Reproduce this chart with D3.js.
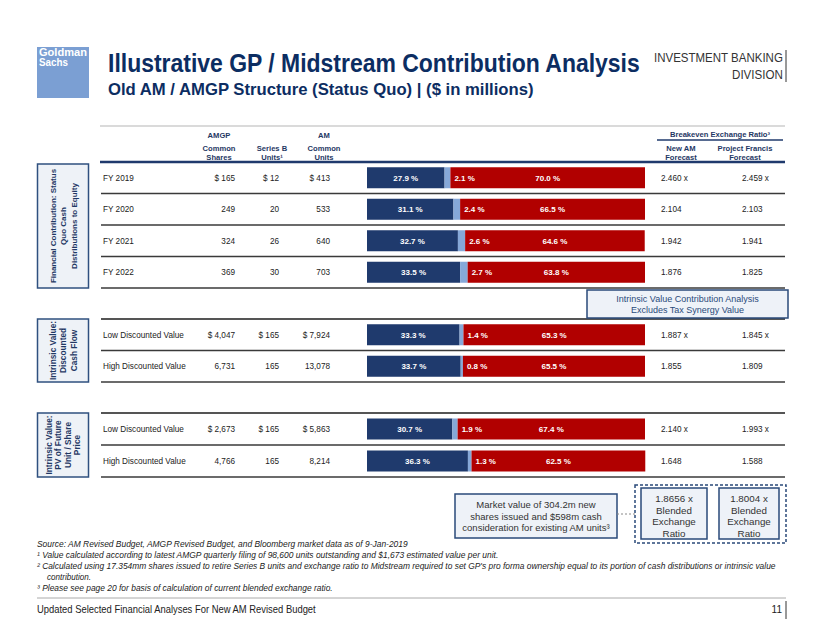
<!DOCTYPE html>
<html><head><meta charset="utf-8">
<script src="https://cdn.jsdelivr.net/npm/d3@7"></script>
<style>body{margin:0;background:#fff}svg{display:block}</style>
</head><body><svg id="c" width="822" height="635"></svg>
<script>
// ---------- DATA ----------
const rowLabels = ["FY 2019","FY 2020","FY 2021","FY 2022","Low Discounted Value","High Discounted Value","Low Discounted Value","High Discounted Value"];
const amgpValues = [165,249,324,369,4047,6731,2673,4766];
const seriesBValues = [12,20,26,30,165,165,165,165];
const amValues = [413,533,640,703,7924,13078,5863,8214];
const amgpPct = [27.9,31.1,32.7,33.5,33.3,33.7,30.7,36.3];
const seriesBPct = [2.1,2.4,2.6,2.7,1.4,0.8,1.9,1.3];
const amPct = [70.0,66.5,64.6,63.8,65.3,65.5,67.4,62.5];
const newAMRatio = ["2.460","2.104","1.942","1.876","1.887","1.855","2.140","1.648"];
const francisRatio = ["2.459","2.103","1.941","1.825","1.845","1.809","1.993","1.588"];
const sectionTitles = [["Financial Contribution: Status","Quo Cash","Distributions to Equity"],["Intrinsic Value:","Discounted","Cash Flow"],["Intrinsic Value:","PV of Future","Unit / Share","Price"]];
const sectionRows = [[0,1,2,3],[4,5],[6,7]];
const blendedRatios = ["1.8656 x","1.8004 x"];

// ---------- STYLE ----------
const NAVY="#1f3a6d", LBLUE="#86a8d8", RED="#b10000", TXT="#222", HEAD="#1f3864";
const SANS="'Liberation Sans', Arial, sans-serif";
const NARROW="'Liberation Sans Narrow','Arial Narrow','Liberation Sans',Arial,sans-serif";

const svg = d3.select("#c");

// text squeezed horizontally to a given width via a scale transform
function fitText(x0, y0, txt, width, opts){
  const t = svg.append("text").attr("x",0).attr("y",0)
    .attr("font-family",opts.family||NARROW).attr("font-size",opts.size)
    .attr("font-weight",opts.weight||"normal").attr("font-style",opts.style||"normal")
    .attr("fill",opts.fill||"#222").text(txt);
  const w = t.node().getComputedTextLength() || width;
  const k = width / w;
  const left = opts.anchor==="end" ? x0 - width : x0;
  t.attr("transform",`translate(${left},${y0}) scale(${k},1)`);
  return t;
}

// ---------- HEADER ----------
svg.append("rect").attr("x",37).attr("y",47).attr("width",52).attr("height",51).attr("fill","#7b9fd3");
fitText(39,56,"Goldman",48,{size:10,weight:"bold",fill:"#fff"});
fitText(39,66,"Sachs",29,{size:10,weight:"bold",fill:"#fff"});

fitText(108,72,"Illustrative GP / Midstream Contribution Analysis",532,{size:26,weight:"bold",fill:"#0c2d62"});
fitText(108,95,"Old AM / AMGP Structure (Status Quo) | ($ in millions)",426,{size:16.5,weight:"bold",fill:"#0c2d62"});
fitText(783,62,"INVESTMENT BANKING",129,{size:13,fill:"#333",anchor:"end"});
fitText(783,79,"DIVISION",51,{size:13,fill:"#333",anchor:"end"});
svg.append("line").attr("x1",786).attr("x2",786).attr("y1",50).attr("y2",82).attr("stroke","#333").attr("stroke-width",1);

// ---------- COLUMN HEADERS ----------
svg.append("line").attr("x1",100).attr("x2",785).attr("y1",126).attr("y2",126).attr("stroke","#b5b5b5").attr("stroke-width",1);
function headText(x, y, lines, anchor){
  const t = svg.append("text").attr("x",x).attr("y",y).attr("text-anchor",anchor||"middle")
    .attr("font-family",SANS).attr("font-weight","bold").attr("font-size",7.6).attr("fill",HEAD);
  lines.forEach((l,i)=>t.append("tspan").attr("x",x).attr("dy",i?9:0).text(l));
}
headText(219,138,["AMGP"]);
headText(219,151,["Common","Shares"]);
headText(272,151,["Series B","Units¹"]);
headText(324,138,["AM"]);
headText(324,151,["Common","Units"]);
headText(720,137,["Breakeven Exchange Ratio³"]);
svg.append("line").attr("x1",657).attr("x2",783).attr("y1",140).attr("y2",140).attr("stroke",NAVY).attr("stroke-width",1.5);
headText(681,151,["New AM","Forecast"]);
headText(745,151,["Project Francis","Forecast"]);
svg.append("line").attr("x1",100).attr("x2",785).attr("y1",162).attr("y2",162).attr("stroke",NAVY).attr("stroke-width",2.5);

// ---------- SCALES ----------
const x = d3.scaleLinear().domain([0,100]).range([367,645]);
const sectionRanges = [[162,288],[319,382],[413,477]];
const sectionBoxes = [[164,288],[319,382],[413,477]];
const labelSizes = [8,8.3,8.3];
const fmt = d3.format(",");
const stack = d3.stack().keys(["amgp","sb","am"]);
const stackData = stack(amgpPct.map((v,i)=>({amgp:v, sb:seriesBPct[i], am:amPct[i]})));
const colors = {amgp:NAVY, sb:LBLUE, am:RED};

sectionRows.forEach((rows, s)=>{
  const y = d3.scaleBand().domain(rows).range(sectionRanges[s]).padding(0);
  const bh = 21;
  if (s>0) svg.append("line").attr("x1",101).attr("x2",785).attr("y1",sectionRanges[s][0]).attr("y2",sectionRanges[s][0])
    .attr("stroke","#555").attr("stroke-width",2);
  rows.forEach(r=>{
    const yb = y(r)+y.bandwidth();
    svg.append("line").attr("x1",101).attr("x2",785).attr("y1",yb).attr("y2",yb).attr("stroke","#3a3a3a").attr("stroke-width",1.6);
  });
  const [b0,b1] = sectionBoxes[s];
  svg.append("rect").attr("x",37.5).attr("y",b0).attr("width",51).attr("height",b1-b0)
    .attr("fill","#eef2f7").attr("stroke","#2f507f").attr("stroke-width",1.5);
  const g = svg.append("g").attr("transform",`translate(63,${(b0+b1)/2}) rotate(-90)`);
  const lines = sectionTitles[s];
  const lh = lines.length>3 ? 9.6 : 10.5;
  const t = g.append("text").attr("text-anchor","middle").attr("font-family",SANS).attr("font-weight","bold")
    .attr("font-size",labelSizes[s]).attr("fill",HEAD);
  lines.forEach((l,i)=>t.append("tspan").attr("x",0).attr("y",(i-(lines.length-1)/2)*lh+3).text(l));

  rows.forEach((r,k)=>{
    const cy = y(r)+y.bandwidth()/2;
    const pre = k===0 ? "$ " : "";
    const suf = k===0 ? " x" : "";
    const tt = (xx, txt, anchor)=>svg.append("text").attr("x",xx).attr("y",cy+3).attr("text-anchor",anchor)
      .attr("font-family",SANS).attr("font-size",8.2).attr("fill",TXT).text(txt);
    tt(103, rowLabels[r], "start");
    tt(235, pre+fmt(amgpValues[r]), "end");
    tt(279, pre+fmt(seriesBValues[r]), "end");
    tt(330, pre+fmt(amValues[r]), "end");
    tt(661, newAMRatio[r]+suf, "start");
    tt(742, francisRatio[r]+suf, "start");
    stackData.forEach(layer=>{
      const d = layer[r];
      svg.append("rect").attr("x",x(d[0])).attr("y",cy-bh/2).attr("width",x(d[1])-x(d[0])).attr("height",bh)
        .attr("fill",colors[layer.key]);
    });
    const lbl = (xx, txt, anchor)=>svg.append("text").attr("x",xx).attr("y",cy+3).attr("text-anchor",anchor)
      .attr("font-family",SANS).attr("font-weight","bold").attr("font-size",8).attr("fill","#fff").text(txt);
    const a = stackData[0][r], b = stackData[1][r], c = stackData[2][r];
    lbl((x(a[0])+x(a[1]))/2, d3.format(".1f")(amgpPct[r])+" %", "middle");
    lbl(x(b[1])+4, d3.format(".1f")(seriesBPct[r])+" %", "start");
    lbl((x(c[0])+x(c[1]))/2, d3.format(".1f")(amPct[r])+" %", "middle");
  });
});

// ---------- CALLOUTS ----------
function box(x0,y0,w,h,lines,fs,color,lh,ty){
  svg.append("rect").attr("x",x0).attr("y",y0).attr("width",w).attr("height",h)
    .attr("fill","#eef2f8").attr("stroke","#2a4a7a").attr("stroke-width",1.5);
  const t = svg.append("text").attr("text-anchor","middle").attr("font-family",SANS).attr("font-size",fs).attr("fill",color);
  lines.forEach((l,i)=>t.append("tspan").attr("x",x0+w/2).attr("y",ty+i*lh).text(l));
}
box(587,290,201,28,["Intrinsic Value Contribution Analysis","Excludes Tax Synergy Value"],9,"#2a4a7a",11,302);
box(455,494,162,44,["Market value of 304.2m new","shares issued and $598m cash","consideration for existing AM units³"],9.5,"#333",11.5,508);
svg.append("line").attr("x1",617).attr("x2",635).attr("y1",514).attr("y2",514).attr("stroke","#888").attr("stroke-dasharray","2,2").attr("stroke-width",1);
svg.append("rect").attr("x",635).attr("y",485).attr("width",151).attr("height",58).attr("fill","none")
  .attr("stroke","#2a4a7a").attr("stroke-width",1.5).attr("stroke-dasharray","3,2");
blendedRatios.forEach((r,i)=>{
  box(i?719:641, 488, i?60:66, 51, [r,"Blended","Exchange","Ratio"], 9.8, "#333", 11.5, 502);
});

// ---------- FOOTNOTES ----------
const footOpts = {size:8.3, style:"italic", fill:"#222"};
fitText(37,547,"Source: AM Revised Budget, AMGP Revised Budget, and Bloomberg market data as of 9-Jan-2019",371,footOpts);
fitText(37,558,"¹  Value calculated according to latest AMGP quarterly filing of 98,600 units outstanding and $1,673 estimated value per unit.",462,footOpts);
fitText(37,569,"²   Calculated using 17.354mm shares issued to retire Series B units and exchange ratio to Midstream required to set GP's pro forma ownership equal to its portion of cash distributions or intrinsic value",739,footOpts);
fitText(47,580,"contribution.",44,footOpts);
fitText(37,591,"³  Please see page 20 for basis of calculation of current blended exchange ratio.",296,footOpts);
svg.append("line").attr("x1",37).attr("x2",786).attr("y1",598).attr("y2",598).attr("stroke","#aaa").attr("stroke-width",1);
fitText(37,613,"Updated Selected Financial Analyses For New AM Revised Budget",279,{size:10,fill:"#222"});
svg.append("text").attr("x",782).attr("y",613).attr("text-anchor","end").attr("font-family",NARROW).attr("font-size",10).attr("fill","#222").text("11");
svg.append("line").attr("x1",786).attr("x2",786).attr("y1",601).attr("y2",619).attr("stroke","#333").attr("stroke-width",1);
</script></body></html>
